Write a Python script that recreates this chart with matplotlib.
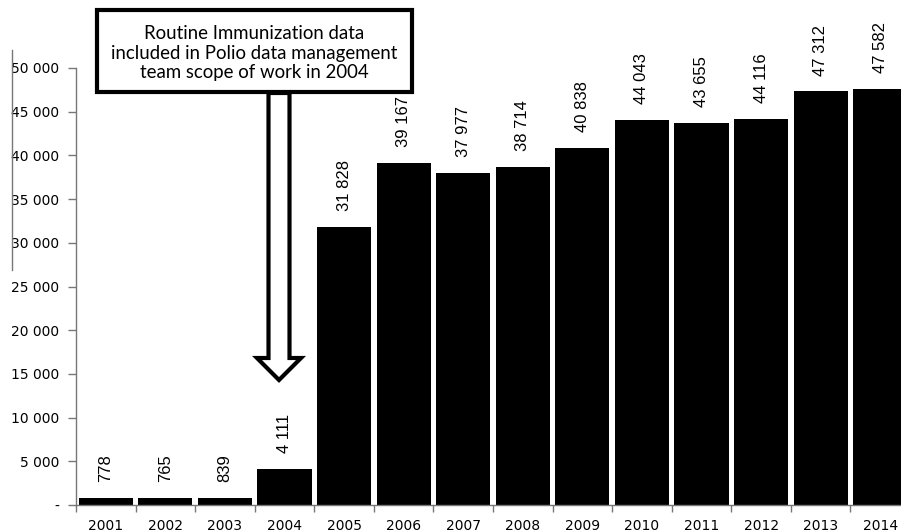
import matplotlib
matplotlib.use("Agg")
import matplotlib.pyplot as plt
from matplotlib.patches import FancyArrow, Rectangle
from matplotlib.lines import Line2D
from matplotlib.ticker import FuncFormatter

years = ["2001", "2002", "2003", "2004", "2005", "2006", "2007",
         "2008", "2009", "2010", "2011", "2012", "2013", "2014"]
values = [778, 765, 839, 4111, 31828, 39167, 37977,
          38714, 40838, 44043, 43655, 44116, 47312, 47582]
ytick_values = list(range(0, 50001, 5000))
note = "Routine Immunization data\nincluded in Polio data management\nteam scope of work in 2004"

W, H = 901, 532
fig = plt.figure(figsize=(W / 100, H / 100), dpi=100)
ax = fig.add_axes([76 / W, 27 / H, (910 - 76) / W, (505 - 68) / H])

x = list(range(len(years)))
ax.bar(x, values, width=0.91, color="black", zorder=2)
ax.set_xlim(-0.5, len(years) - 0.5)
ax.set_ylim(0, 50000)

def fmt(v, pos):
    if v == 0:
        return "-"
    return f"{int(v):,}".replace(",", " ")

ax.set_yticks(ytick_values)
ax.yaxis.set_major_formatter(FuncFormatter(fmt))
ax.tick_params(axis="y", direction="out", length=6, width=1, color="#777777",
               labelsize=10, pad=6, labelfontfamily="DejaVu Sans")
ax.set_xticks(x)
ax.set_xticklabels(years, fontsize=10, fontfamily="DejaVu Sans")
ax.tick_params(axis="x", length=0, pad=10)
ax.set_xticks([i - 0.5 for i in range(len(years) + 1)], minor=True)
ax.tick_params(axis="x", which="minor", direction="out", length=5, width=1, color="#777777")

for s in ["top", "right"]:
    ax.spines[s].set_visible(False)
for s in ["left", "bottom"]:
    ax.spines[s].set_color("#777777")
    ax.spines[s].set_linewidth(1)

for xi, v in zip(x, values):
    ax.annotate(f"{v:,}".replace(",", " "), (xi, v), xytext=(0, 11.5),
                textcoords="offset points", rotation=90, ha="center", va="bottom",
                fontsize=12, fontfamily="Liberation Sans", clip_on=False)

# annotation box
box = Rectangle((97 / W, 1 - 92 / H), (412 - 97) / W, (92 - 10) / H,
                transform=fig.transFigure, facecolor="white", edgecolor="black",
                linewidth=3, zorder=5)
fig.patches.append(box)
fig.text((97 + 412) / 2 / W, 1 - 53 / H, note, ha="center", va="center",
         fontsize=13.4, fontfamily="Lato", linespacing=1.2, zorder=6)

# hollow arrow
arr = FancyArrow(279 / W, 1 - 93 / H, 0, -(380 - 93) / H, width=21 / W,
                 head_width=44 / W, head_length=22 / H, length_includes_head=True,
                 transform=fig.transFigure, facecolor="white", edgecolor="black",
                 linewidth=3, zorder=4)
fig.patches.append(arr)

# stray vertical line at left
fig.lines.append(Line2D([12 / W, 12 / W], [1 - 50 / H, 1 - 270 / H],
                        transform=fig.transFigure, color="#777777", linewidth=1))

fig.savefig("out.png", dpi=100)
